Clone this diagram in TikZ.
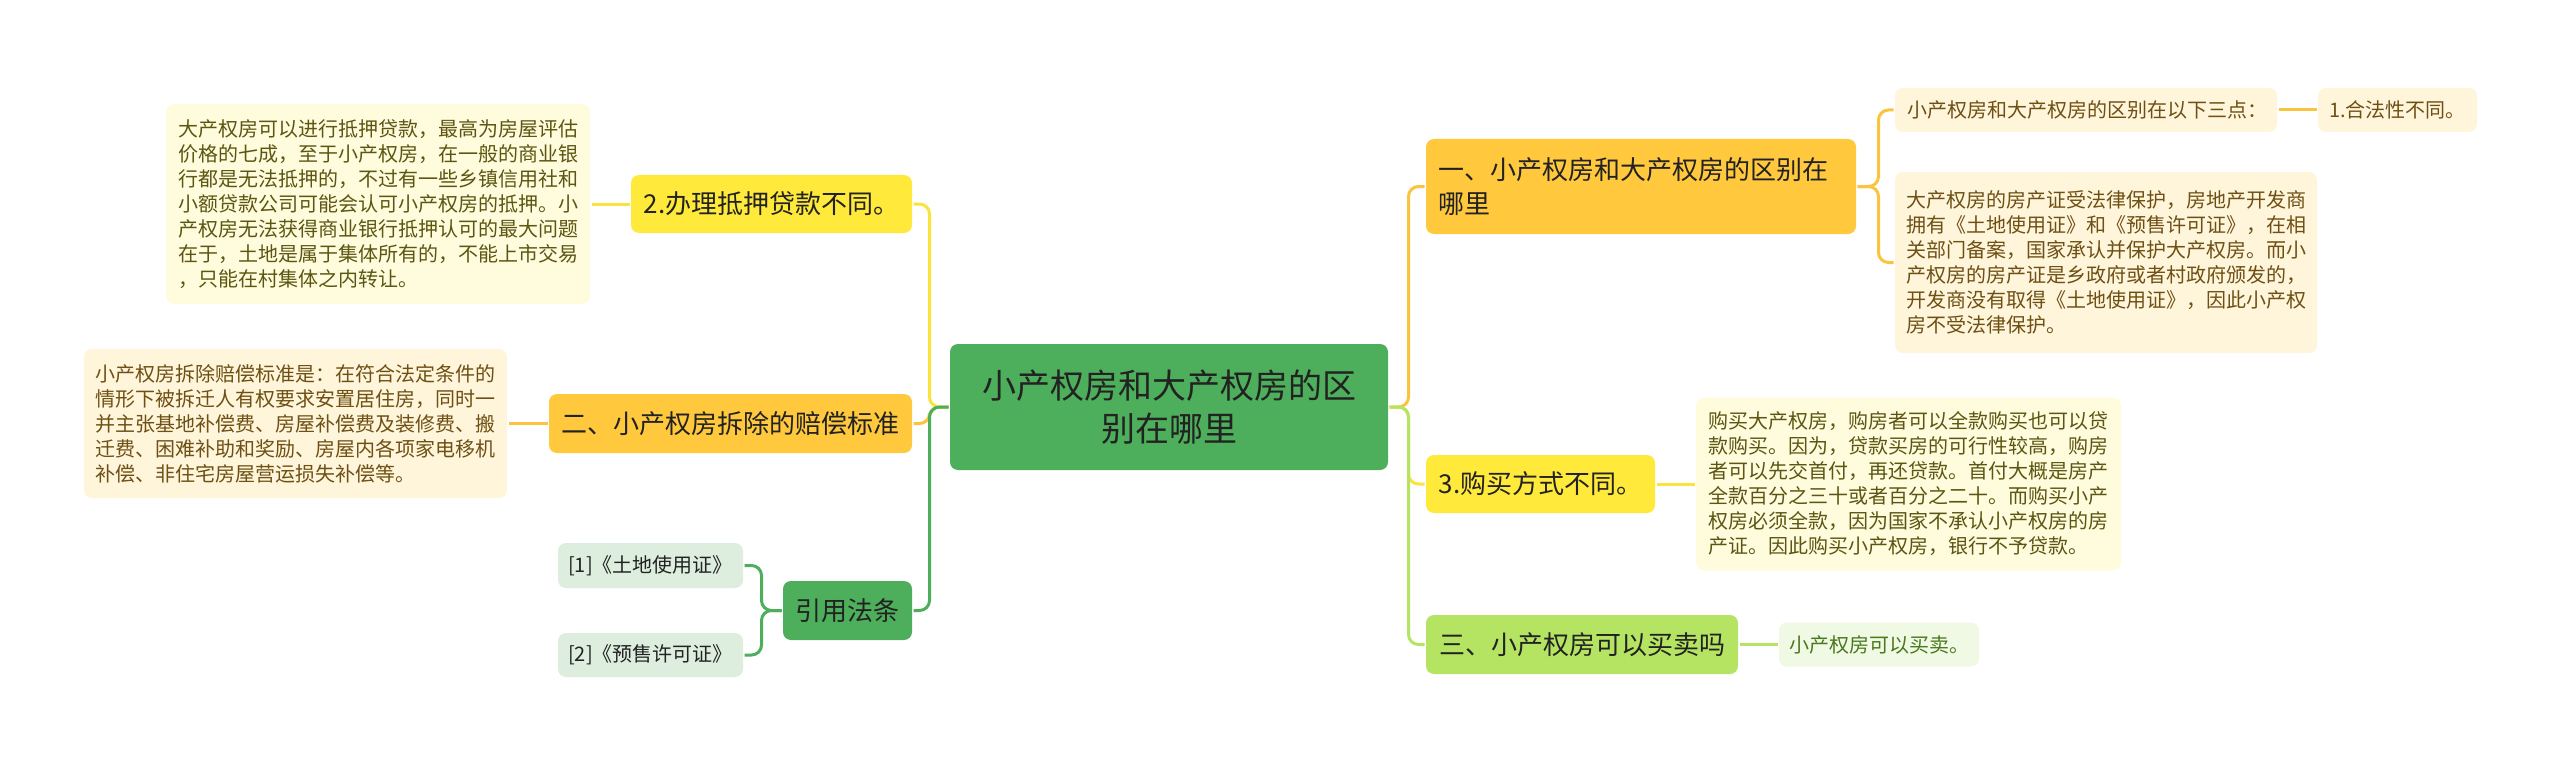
\documentclass[tikz,border=0pt]{standalone}
\usepackage{fontspec}
\setmainfont{Noto Sans CJK SC}
\usetikzlibrary{positioning}

\definecolor{rootgreen}{RGB}{77,174,91}
\definecolor{topicyel}{RGB}{255,233,59}
\definecolor{topicorg}{RGB}{255,200,61}
\definecolor{topiclime}{RGB}{180,228,97}
\definecolor{leafyel}{RGB}{255,251,221}
\definecolor{leaforg}{RGB}{255,245,219}
\definecolor{leafgreen}{RGB}{221,238,222}
\definecolor{leaflime}{RGB}{240,249,227}
\definecolor{txtdark}{RGB}{34,34,34}
\definecolor{txtolive}{RGB}{92,86,18}
\definecolor{txtbrown}{RGB}{110,80,20}
\definecolor{txtlime}{RGB}{74,120,30}
\definecolor{lineyel}{RGB}{250,228,60}
\definecolor{lineorg}{RGB}{250,196,62}

\begin{document}
\begin{tikzpicture}[
            x = 1pt, y = -1pt, % one unit is one pixel, y grows downwards
            node distance = 38pt, % gap between a topic and its leaf
            inner sep = 0pt,
            line width = 3pt % connector width
        ]

        \tikzstyle{box}=[rounded corners = 8pt, align = center]
        \tikzstyle{link}=[rounded corners = 10pt]
        \tikzstyle{topic}=[box, text = txtdark, font = \fontsize{26}{34}\selectfont]
        \tikzstyle{leaf}=[box, align = left, font = \fontsize{20}{25}\selectfont]

        \fill[white] (0,0) rectangle (2560,765);
        \useasboundingbox (0,0) rectangle (2560,765);

        % root
        \node[box, fill = rootgreen, text = txtdark, font = \fontsize{34}{43}\selectfont,
              minimum width = 438pt, minimum height = 126pt] (root) at (1169,407)
              {小产权房和大产权房的区\\别在哪里};

        % left side
        \node[topic, fill = topicyel, minimum width = 281pt, minimum height = 58pt] (b2) at (771.5,204) {2.办理抵押贷款不同。};
        \node[topic, fill = topicorg, minimum width = 363pt, minimum height = 59pt] (b1) at (730.5,423.5) {二、小产权房拆除的赔偿标准};
        \node[topic, fill = rootgreen, minimum width = 129pt, minimum height = 59pt] (cite) at (847.5,610.5) {引用法条};

        \node[leaf, fill = leafyel, text = txtolive, minimum width = 424pt, minimum height = 200pt] (b2t) [left = of b2]
            {大产权房可以进行抵押贷款，最高为房屋评估\\
             价格的七成，至于小产权房，在一般的商业银\\
             行都是无法抵押的，不过有一些乡镇信用社和\\
             小额贷款公司可能会认可小产权房的抵押。小\\
             产权房无法获得商业银行抵押认可的最大问题\\
             在于，土地是属于集体所有的，不能上市交易\\
             ，只能在村集体之内转让。};
        \node[leaf, fill = leaforg, text = txtbrown, minimum width = 423pt, minimum height = 149pt] (b1t) [left = 39pt of b1]
            {小产权房拆除赔偿标准是：在符合法定条件的\\
             情形下被拆迁人有权要求安置居住房，同时一\\
             并主张基地补偿费、房屋补偿费及装修费、搬\\
             迁费、困难补助和奖励、房屋内各项家电移机\\
             补偿、非住宅房屋营运损失补偿等。};
        \node[leaf, fill = leafgreen, text = txtdark, minimum width = 185pt, minimum height = 45pt] (cite1) at (650.5,565.5) {[1]《土地使用证》};
        \node[leaf, fill = leafgreen, text = txtdark, minimum width = 185pt, minimum height = 44pt] (cite2) at (650.5,655) {[2]《预售许可证》};

        % right side
        \node[topic, fill = topicorg, align = left, text width = 406pt, inner xsep = 12pt,
              minimum height = 95pt] (r1) at (1641,186.5)
              {一、小产权房和大产权房的区别在\\哪里};
        \node[topic, fill = topicyel, minimum width = 229pt, minimum height = 58pt] (r3) at (1540.5,484) {3.购买方式不同。};
        \node[topic, fill = topiclime, minimum width = 312pt, minimum height = 59pt] (r2) at (1582,644.5) {三、小产权房可以买卖吗};

        \node[leaf, fill = leaforg, text = txtbrown, align = left, text width = 358pt, inner xsep = 12pt,
              minimum height = 44pt] (r1a) at (2086,110) {小产权房和大产权房的区别在以下三点：};
        \node[leaf, fill = leaforg, text = txtbrown, minimum width = 159pt, minimum height = 44pt] (r1b) [right = of r1a] {1.合法性不同。};
        \node[leaf, fill = leaforg, text = txtbrown, minimum width = 422pt, minimum height = 181pt] (r1c) at (2106,262.5)
            {大产权房的房产证受法律保护，房地产开发商\\
             拥有《土地使用证》和《预售许可证》，在相\\
             关部门备案，国家承认并保护大产权房。而小\\
             产权房的房产证是乡政府或者村政府颁发的，\\
             开发商没有取得《土地使用证》，因此小产权\\
             房不受法律保护。};
        \node[leaf, fill = leafyel, text = txtolive, minimum width = 425pt, minimum height = 173pt] (r3t) [right = of r3]
            {购买大产权房，购房者可以全款购买也可以贷\\
             款购买。因为，贷款买房的可行性较高，购房\\
             者可以先交首付，再还贷款。首付大概是房产\\
             全款百分之三十或者百分之二十。而购买小产\\
             权房必须全款，因为国家不承认小产权房的房\\
             产证。因此购买小产权房，银行不予贷款。};
        \node[leaf, fill = leaflime, text = txtlime, minimum width = 200pt, minimum height = 44pt] (r2t) [right = of r2] {小产权房可以买卖。};

        % connectors
        \draw[link, lineyel] (root.west) -- ++(-19,0) |- (b2.east);
        \draw[link, lineorg] (root.west) -- ++(-19,0) |- (b1.east);
        \draw[link, rootgreen] (root.west) -- ++(-19,0) |- (cite.east);
        \draw[link, lineorg] (root.east) -- ++(19,0) |- (r1.west);
        \draw[link, lineyel] (root.east) -- ++(19,0) |- (r3.west);
        \draw[link, topiclime] (root.east) -- ++(19,0) |- (r2.west);

        \draw[link, lineyel] (b2) -- (b2t);
        \draw[link, lineorg] (b1) -- (b1t);
        \draw[link, rootgreen] (cite.west) -- ++(-20,0) |- (cite1.east);
        \draw[link, rootgreen] (cite.west) -- ++(-20,0) |- (cite2.east);

        \draw[link, lineorg] (r1.east) -- ++(21,0) |- (r1a.west);
        \draw[link, lineorg] (r1.east) -- ++(21,0) |- (r1c.west);
        \draw[link, lineorg] (r1a) -- (r1b);
        \draw[link, lineyel] (r3) -- (r3t);
        \draw[link, topiclime] (r2) -- (r2t);
    \end{tikzpicture}
\end{document}
